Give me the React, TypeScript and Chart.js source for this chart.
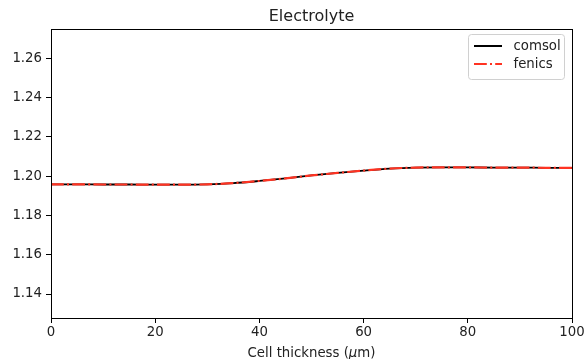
import React, { useEffect, useRef } from "react";
import { Chart, registerables } from "chart.js";

Chart.register(...registerables);

const xValues = [0, 5, 10, 15, 20, 25, 30, 35, 40, 45, 50, 55, 60, 65, 70, 75, 80, 85, 90, 95, 100];
const comsolValues = [1.1958, 1.1958, 1.1957, 1.1957, 1.1956, 1.1956, 1.1958, 1.1964, 1.1975, 1.1988, 1.2003, 1.2016, 1.2028, 1.2038, 1.2043, 1.2044, 1.2044, 1.2043, 1.2043, 1.2042, 1.2042];
const fenicsValues = [1.1958, 1.1958, 1.1957, 1.1957, 1.1956, 1.1956, 1.1958, 1.1964, 1.1975, 1.1988, 1.2003, 1.2016, 1.2028, 1.2038, 1.2043, 1.2044, 1.2044, 1.2043, 1.2043, 1.2042, 1.2042];
const yTicks = [1.14, 1.16, 1.18, 1.2, 1.22, 1.24, 1.26];
const xTicks = [0, 20, 40, 60, 80, 100];
const seriesLabels = ["comsol", "fenics"];
const titleText = "Electrolyte";
const xLabelParts = ["Cell thickness (", "\u03bc", "m)"];

const FONT = "'DejaVu Sans', sans-serif";
const RED = "#ff3322";

const framePlugin = {
  id: "mplFrame",
  afterDatasetsDraw(chart: any) {
    const { ctx, chartArea } = chart;
    const { left, right, top, bottom } = chartArea;
    ctx.save();
    ctx.strokeStyle = "#000";
    ctx.lineWidth = 1;
    ctx.strokeRect(Math.round(left) + 0.5, Math.round(top) + 0.5, Math.round(right - left), Math.round(bottom - top));

    // title
    ctx.fillStyle = "#222";
    ctx.font = `16px ${FONT}`;
    ctx.textAlign = "center";
    ctx.textBaseline = "alphabetic";
    ctx.fillText(titleText, (left + right) / 2, 20.5);

    // x label with italic mu
    ctx.font = `13.3px ${FONT}`;
    const w0 = ctx.measureText(xLabelParts[0]).width;
    ctx.font = `italic 13.3px ${FONT}`;
    const w1 = ctx.measureText(xLabelParts[1]).width;
    ctx.font = `13.3px ${FONT}`;
    const w2 = ctx.measureText(xLabelParts[2]).width;
    let x = (left + right) / 2 - (w0 + w1 + w2) / 2;
    const by = 356.5;
    ctx.textAlign = "left";
    ctx.fillText(xLabelParts[0], x, by);
    x += w0;
    ctx.font = `italic 13.3px ${FONT}`;
    ctx.fillText(xLabelParts[1], x, by);
    x += w1;
    ctx.font = `13.3px ${FONT}`;
    ctx.fillText(xLabelParts[2], x, by);

    // legend
    const bx = 468.5, byy = 34.5, bw = 96, bh = 45, r = 3;
    ctx.beginPath();
    ctx.moveTo(bx + r, byy);
    ctx.lineTo(bx + bw - r, byy);
    ctx.quadraticCurveTo(bx + bw, byy, bx + bw, byy + r);
    ctx.lineTo(bx + bw, byy + bh - r);
    ctx.quadraticCurveTo(bx + bw, byy + bh, bx + bw - r, byy + bh);
    ctx.lineTo(bx + r, byy + bh);
    ctx.quadraticCurveTo(bx, byy + bh, bx, byy + bh - r);
    ctx.lineTo(bx, byy + r);
    ctx.quadraticCurveTo(bx, byy, bx + r, byy);
    ctx.closePath();
    ctx.fillStyle = "rgba(255,255,255,0.8)";
    ctx.fill();
    ctx.strokeStyle = "#d0d0d0";
    ctx.lineWidth = 1;
    ctx.stroke();

    const rows = [46, 64];
    const styles = [
      { color: "#000", dash: [] as number[] },
      { color: RED, dash: [12.8, 3.2, 2, 3.2] },
    ];
    rows.forEach((ry, i) => {
      ctx.beginPath();
      ctx.setLineDash(styles[i].dash);
      ctx.strokeStyle = styles[i].color;
      ctx.lineWidth = 2;
      ctx.moveTo(474, ry);
      ctx.lineTo(502, ry);
      ctx.stroke();
      ctx.setLineDash([]);
      ctx.fillStyle = "#222";
      ctx.font = `13.3px ${FONT}`;
      ctx.textAlign = "left";
      ctx.textBaseline = "middle";
      ctx.fillText(seriesLabels[i], 513.5, ry + 0.5);
    });
    ctx.restore();
  },
};

export default function App() {
  const ref = useRef<HTMLCanvasElement>(null);
  useEffect(() => {
    document.body.style.margin = "0";
    const canvas = ref.current!;
    const chart = new Chart(canvas, {
      type: "line",
      data: {
        datasets: [
          {
            label: seriesLabels[0],
            data: xValues.map((x, i) => ({ x, y: comsolValues[i] })),
            borderColor: "#000",
            borderWidth: 1.8,
            pointRadius: 0,
            cubicInterpolationMode: "monotone",
            fill: false,
            order: 1,
          },
          {
            label: seriesLabels[1],
            data: xValues.map((x, i) => ({ x, y: fenicsValues[i] })),
            borderColor: RED,
            borderWidth: 2.2,
            borderDash: [12.8, 3.2, 2, 3.2],
            pointRadius: 0,
            cubicInterpolationMode: "monotone",
            fill: false,
            order: 0,
          },
        ],
      },
      options: {
        responsive: false,
        animation: false,
        devicePixelRatio: 1,
        layout: { padding: { top: 29, right: 12, left: 0, bottom: 0 } },
        plugins: {
          legend: { display: false },
          title: { display: false },
          tooltip: { enabled: false },
        },
        scales: {
          x: {
            type: "linear",
            min: 0,
            max: 100,
            afterBuildTicks: (scale: any) => {
              scale.ticks = xTicks.map((v) => ({ value: v }));
            },
            afterFit: (scale: any) => {
              scale.height = 41;
              scale.paddingLeft = 0;
              scale.paddingRight = 0;
            },
            border: { display: false },
            grid: {
              drawOnChartArea: false,
              drawTicks: true,
              tickLength: 5,
              color: "#000",
              lineWidth: 1,
            },
            ticks: {
              padding: 2,
              color: "#222",
              font: { family: FONT, size: 13.3 },
              maxRotation: 0,
              autoSkip: false,
              callback: (v: any) => String(v),
            },
          },
          y: {
            type: "linear",
            min: 1.1278,
            max: 1.2748,
            afterBuildTicks: (scale: any) => {
              scale.ticks = yTicks.map((v) => ({ value: v }));
            },
            afterFit: (scale: any) => {
              scale.width = 51;
              scale.paddingTop = 0;
              scale.paddingBottom = 0;
            },
            border: { display: false },
            grid: {
              drawOnChartArea: false,
              drawTicks: true,
              tickLength: 5,
              color: "#000",
              lineWidth: 1,
            },
            ticks: {
              padding: 4,
              color: "#222",
              font: { family: FONT, size: 13.3 },
              autoSkip: false,
              callback: (v: any) => Number(v).toFixed(2),
            },
          },
        },
      },
      plugins: [framePlugin],
    } as any);
    return () => chart.destroy();
  }, []);
  return (
    <div style={{ width: 584, height: 359, background: "#fff" }}>
      <canvas ref={ref} width={584} height={359} style={{ display: "block" }} />
    </div>
  );
}
